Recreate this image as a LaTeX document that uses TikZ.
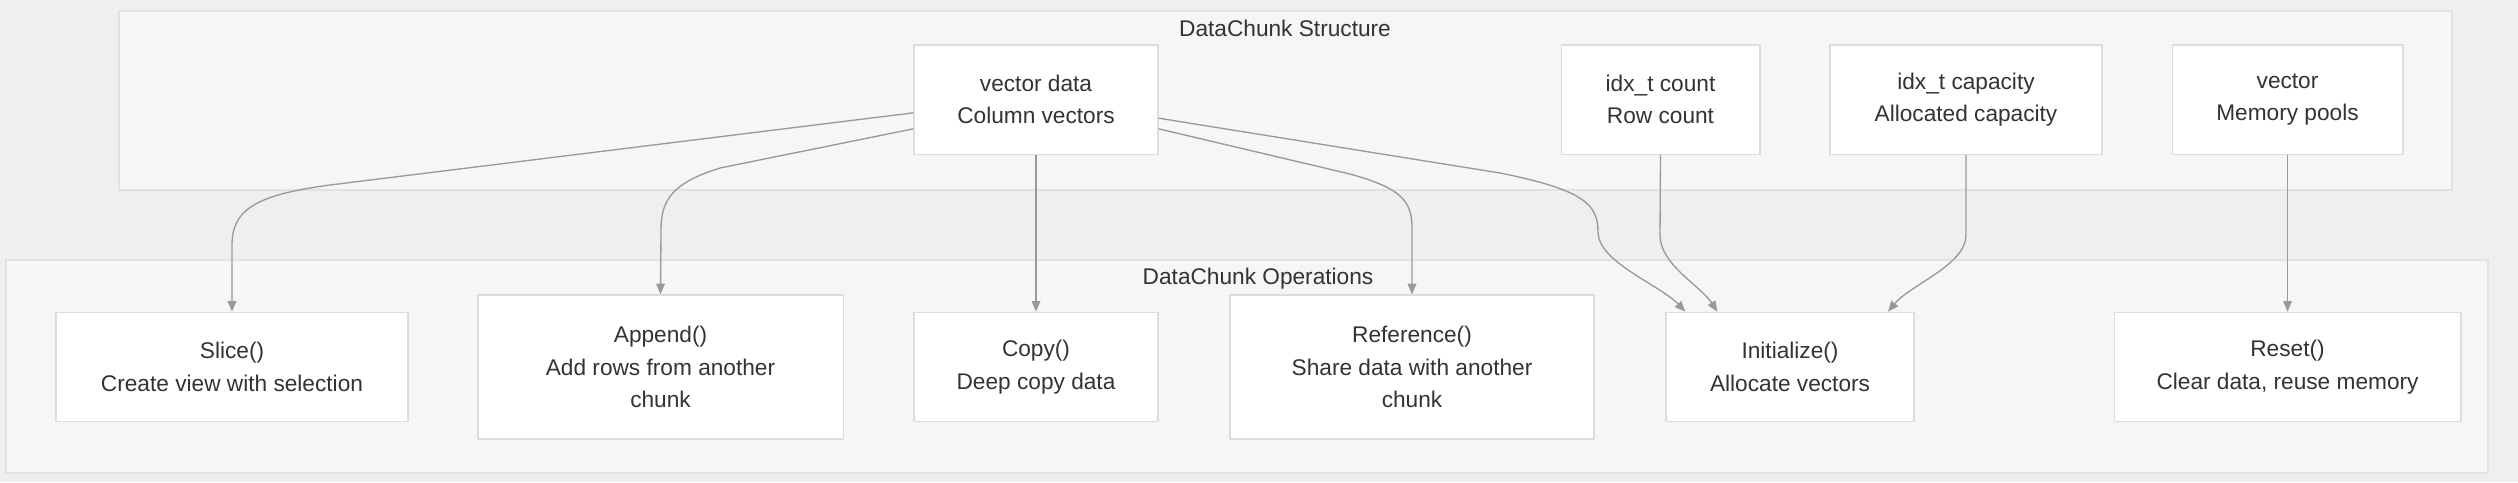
\documentclass[tikz,border=0pt]{standalone}
\usepackage{fontspec}
\setmainfont{Liberation Sans}
\usetikzlibrary{arrows.meta}

\definecolor{pagebg}{HTML}{EFEFEF}
\definecolor{clusterbg}{HTML}{F6F6F6}
\definecolor{clusterline}{HTML}{E2E2E2}
\definecolor{boxline}{HTML}{DDDDDD}
\definecolor{edgegray}{HTML}{999999}
\definecolor{textgray}{HTML}{333333}

\begin{document}
\begin{tikzpicture}[x=0.75pt, y=-0.75pt,
  font=\fontsize{17}{24.5}\selectfont, text=textgray,
  box/.style={draw=boxline, fill=white, line width=1pt, align=center,
    inner sep=0pt, minimum height=82pt},
  tallbox/.style={box, minimum height=108pt},
  cluster/.style={draw=clusterline, fill=clusterbg, line width=1pt},
  edge/.style={draw=edgegray, line width=1pt, -{Triangle[length=8pt, width=6.5pt]}}]

                        \fill[pagebg] (0,0) rectangle (2518,482);
                        \useasboundingbox (0,0) rectangle (2518,482);

                        % Clusters
                        \draw[cluster] (119,11) rectangle (2452,190);
                        \node (structtitle) at (1285,28) {DataChunk Structure};
                        \draw[cluster] (6,260) rectangle (2488,473);
                        \node (opstitle) at (1258,279) {DataChunk Operations};

                        % Nodes for the chunk structure
                        \node (data) [box, minimum width=183pt] at (1036,99.5) {vector data\\Column vectors};
                        \node (count) [box, minimum width=149pt] at (1660.5,99.5) {idx\_t count\\Row count};
                        \node (capacity) [box, minimum width=204pt] at (1966,99.5) {idx\_t capacity\\Allocated capacity};
                        \node (pools) [box, minimum width=173pt] at (2287.5,99.5) {vector\\Memory pools};

                        % Nodes for the operations
                        \node (slice) [box, minimum width=264pt] at (232,367) {Slice()\\Create view with selection};
                        \node (append) [tallbox, minimum width=274pt] at (660.5,367) {Append()\\Add rows from another\\chunk};
                        \node (copy) [box, minimum width=183pt] at (1036,367) {Copy()\\Deep copy data};
                        \node (reference) [tallbox, minimum width=273pt] at (1412,367) {Reference()\\Share data with another\\chunk};
                        \node (init) [box, minimum width=186pt] at (1790,367) {Initialize()\\Allocate vectors};
                        \node (reset) [box, minimum width=260pt] at (2287.5,367) {Reset()\\Clear data, reuse memory};

                        % Edges from the structure to the operations
                        \draw[edge] ([yshift=-10pt]data.west) -- (330,185) .. controls (255,195) and (232,210) .. (232,245) -- (slice.north);
                        \draw[edge] ([yshift=-22pt]data.west) -- (720,168) .. controls (672,183) and (661,200) .. (661,230) -- (append.north);
                        \draw[edge] (data.south) -- (copy.north);
                        \draw[edge] ([yshift=-22pt]data.east) -- (1350,174) .. controls (1400,188) and (1412,200) .. (1412,228) -- (reference.north);
                        \draw[edge] ([yshift=-14pt]data.east) -- (1500,173) .. controls (1585,190) and (1598,205) .. (1598,232)
                          .. controls (1598,262) and (1660,285) .. ([xshift=15pt]init.north west);
                        \draw[edge] (count.south) -- (1660,235) .. controls (1660,265) and (1700,285) .. ([xshift=39pt]init.north west);
                        \draw[edge] (capacity.south) -- (1966,235) .. controls (1966,265) and (1910,285) .. ([xshift=-20pt]init.north east);
                        \draw[edge] (pools.south) -- (reset.north);
                \end{tikzpicture}
\end{document}
